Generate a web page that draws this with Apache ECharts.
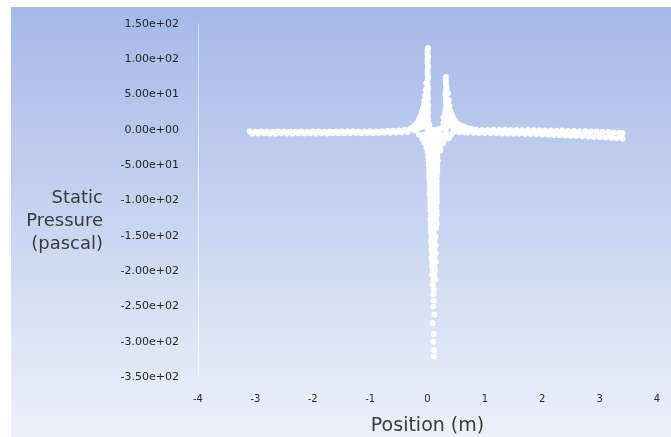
<!DOCTYPE html>
<html><head><meta charset="utf-8">
<script src="https://cdn.jsdelivr.net/npm/echarts@6/dist/echarts.min.js"></script>
<style>html,body{margin:0;padding:0;background:#fff;width:671px;height:437px;overflow:hidden}
#c{position:absolute;left:11px;top:7px;width:660px;height:430px}</style>
</head><body><div id="c"></div><script>
const xTickLabels = ['-4','-3','-2','-1','0','1','2','3','4'];
const yTickLabels = ['-3.50e+02','-3.00e+02','-2.50e+02','-2.00e+02','-1.50e+02','-1.00e+02','-5.00e+01','0.00e+00','5.00e+01','1.00e+02','1.50e+02'];
const yTitle = 'Static\nPressure\n(pascal)';
const xTitle = 'Position (m)';

const leftBand = [
[-3.10,-2.4],[-3.05,-5.0],[-3.00,-2.6],[-2.95,-5.2],[-2.90,-2.3],[-2.85,-4.8],[-2.80,-2.5],[-2.75,-5.1],[-2.70,-2.7],[-2.65,-5.3],[-2.60,-2.4],[-2.55,-4.9],[-2.50,-2.2],[-2.45,-5.0],[-2.40,-2.6],[-2.35,-5.2],[-2.30,-2.5],[-2.25,-4.8],[-2.20,-2.3],[-2.15,-5.1],[-2.10,-2.6],[-2.05,-4.9],[-2.00,-2.4],[-1.95,-5.0],[-1.90,-2.2],[-1.85,-4.7],[-1.80,-2.5],[-1.75,-5.0],[-1.70,-2.3],[-1.65,-4.8],[-1.60,-2.1],[-1.55,-4.6],[-1.50,-2.4],[-1.45,-4.9],[-1.40,-2.2],[-1.35,-4.7],[-1.30,-2.0],[-1.25,-4.5],[-1.20,-2.3],[-1.15,-4.8],[-1.10,-2.1],[-1.05,-4.4],[-1.00,-1.9],[-0.95,-4.6],[-0.90,-2.2],[-0.85,-4.3],[-0.80,-1.8],[-0.75,-4.2],[-0.70,-1.6],[-0.65,-3.9],[-0.60,-1.3],[-0.55,-3.6],[-0.50,-0.9],[-0.45,-3.2],[-0.40,-0.3],[-0.35,-2.8]
];

const spikeA = [
[-0.30,1.5],[-0.26,3.5],[-0.22,6],[-0.19,9],[-0.16,12.5],[-0.14,16],[-0.12,20],[-0.10,25],[-0.08,30],[-0.06,36],[-0.05,42],[-0.04,49],[-0.03,57],[-0.02,66],
[-0.22,-1],[-0.16,2],[-0.14,6],[-0.12,9],[-0.10,4],[-0.10,13],[-0.10,19],[-0.07,8],[-0.07,16],[-0.07,24],[-0.04,6],[-0.04,14],[-0.04,22],[-0.04,30],[-0.04,38],
[0.00,0],[0.01,5],[0.00,10],[0.01,15],[0.00,20],[0.01,25],[0.00,30],[0.01,35],[0.00,40],[0.01,45],[0.00,50],[0.00,55],[0.01,60],[0.00,65],[0.00,70],[0.01,75],[0.00,80],[0.00,85],[0.01,90],[0.00,95],[0.00,100],[0.01,104],[0.00,108],[0.00,112],[0.01,116],
[0.03,2],[0.03,8],[0.04,3],[0.08,0],[0.14,0],[0.20,1]
];

const spikeB = [
[0.32,0],[0.31,5],[0.32,10],[0.33,15],[0.32,20],[0.31,25],[0.32,30],[0.33,35],[0.32,40],[0.32,45],[0.31,50],[0.32,55],[0.33,60],[0.32,65],[0.32,70],[0.32,75],
[0.27,3],[0.28,10],[0.28,18],[0.24,2],
[0.36,52],[0.37,42],[0.38,34],[0.40,27],[0.42,22],[0.45,17],[0.48,13],[0.52,9.5],[0.56,7],[0.61,5],[0.66,3.5],[0.72,2],[0.78,1],
[0.36,10],[0.36,20],[0.36,30],[0.40,6],[0.40,14],[0.44,4],[0.44,10],[0.50,3],[0.56,1],[0.62,0],
[0.45,-3],[0.55,-3.5],[0.65,-3.8]
];

const downSpike = [
[-0.15,-7],[-0.07,-7],[0.01,-7],[0.09,-7],[0.17,-7],[0.25,-7],[0.33,-7],[0.41,-7],
[-0.09,-13],[-0.01,-13],[0.07,-13],[0.15,-13],[0.23,-13],[0.31,-13],[0.37,-12],
[-0.05,-19],[0.03,-19],[0.11,-19],[0.19,-19],[0.27,-19],
[-0.02,-25],[0.06,-25],[0.14,-25],[0.22,-25],
[0.00,-31],[0.08,-31],[0.16,-31],[0.22,-30],
[0.01,-37],[0.09,-37],[0.17,-37],
[0.02,-43],[0.10,-43],[0.18,-43],
[0.02,-49],[0.10,-49],[0.17,-49],
[0.03,-55],[0.10,-55],[0.17,-55],
[0.03,-61],[0.10,-61],[0.17,-61],
[0.03,-67],[0.09,-67],[0.16,-67],
[0.04,-73],[0.10,-73],[0.16,-73],
[0.04,-79],[0.10,-79],[0.16,-79],
[0.04,-85],[0.10,-85],[0.16,-85],
[0.04,-91],[0.10,-91],[0.16,-91],
[0.05,-97],[0.10,-97],[0.16,-97],
[0.05,-103],[0.11,-103],[0.16,-103],
[0.05,-109],[0.10,-109],[0.15,-109],
[0.05,-115],[0.10,-115],[0.16,-115],
[0.06,-121],[0.11,-121],[0.16,-121],
[0.05,-127],[0.10,-127],[0.15,-127],
[0.06,-133],[0.11,-133],[0.16,-133],
[0.06,-139],[0.10,-139],[0.15,-139],
[0.06,-145],[0.11,-145],
[0.07,-151],[0.14,-151],
[0.06,-157],[0.12,-157],
[0.07,-163],[0.14,-163],
[0.07,-169],[0.12,-169],
[0.08,-175],[0.14,-175],
[0.07,-181],[0.12,-181],
[0.08,-187],[0.14,-187],
[0.08,-193],[0.12,-193],
[0.09,-199],[0.13,-199],
[0.08,-205],[0.12,-205],
[0.10,-212],[0.13,-212],
[0.09,-219],[0.11,-226],[0.10,-233],[0.11,-242],[0.10,-250],
[0.12,-262],[0.09,-274],[0.11,-289],[0.10,-300],[0.12,-312],[0.11,-321]
];

const rightBand = [
[0.75,0.5],[0.85,0.2],[0.95,0.0],[1.05,-0.1],[1.15,0.2],[1.25,-0.2],[1.35,0.1],[1.45,-0.3],[1.55,0.0],[1.65,-0.4],[1.75,-0.2],[1.85,-0.6],[1.95,-0.5],[2.05,-0.9],[2.15,-0.7],[2.25,-1.2],[2.35,-1.0],[2.45,-1.5],[2.55,-1.4],[2.65,-1.9],[2.75,-1.8],[2.85,-2.3],[2.95,-2.4],[3.05,-2.8],[3.15,-3.1],[3.25,-3.6],[3.35,-4.2],[3.40,-4.5],
[0.70,-3.8],[0.80,-4.0],[0.90,-4.3],[1.00,-4.5],[1.10,-4.8],[1.20,-4.6],[1.30,-5.1],[1.40,-5.0],[1.50,-5.4],[1.60,-5.3],[1.70,-5.8],[1.80,-5.9],[1.90,-6.3],[2.00,-6.4],[2.10,-6.9],[2.20,-7.1],[2.30,-7.5],[2.40,-7.8],[2.50,-8.3],[2.60,-8.6],[2.70,-9.0],[2.80,-9.4],[2.90,-9.9],[3.00,-10.3],[3.10,-10.9],[3.20,-11.4],[3.30,-12.0],[3.40,-12.4],
[2.00,-3.5],[2.20,-4.0],[2.40,-4.6],[2.60,-5.2],[2.80,-5.8],[3.00,-6.5],[3.20,-7.4],[3.38,-8.2]
];

const chart = echarts.init(document.getElementById('c'), null, {renderer:'canvas'});
function pts(name, data, size){
  return {name:name, type:'scatter', symbol:'circle', symbolSize:size, data:data, silent:true,
    itemStyle:{color:'#ffffff', opacity:1, borderWidth:0, shadowBlur:0},
    emphasis:{disabled:true}};
}
chart.setOption({
  animation:false,
  backgroundColor: new echarts.graphic.LinearGradient(0,0,0,1,[
    {offset:0,color:'#a5b9e8'},{offset:0.5,color:'#c8d5f1'},{offset:1,color:'#eef0f9'}]),
  grid:{left:187,right:14,top:17,bottom:60,containLabel:false,outerBoundsMode:'none'},
  xAxis:{type:'value',min:-4,max:4,interval:1,
    axisLine:{show:false},axisTick:{show:false},splitLine:{show:false},
    axisLabel:{margin:17,fontSize:10,color:'#2b2b2b',fontFamily:'DejaVu Sans',
      formatter:function(v){return xTickLabels[Math.round(v+4)];}},
    name:xTitle,nameLocation:'middle',nameGap:40,
    nameTextStyle:{fontSize:19,color:'#3a3a3a',fontFamily:'DejaVu Sans'}},
  yAxis:{type:'value',min:-350,max:150,interval:50,
    axisLine:{show:true,onZero:false,lineStyle:{color:'rgba(255,255,255,0.6)',width:1}},
    axisTick:{show:false},splitLine:{show:false},
    axisLabel:{margin:19,fontSize:11,color:'#262626',fontFamily:'DejaVu Sans',
      formatter:function(v){return yTickLabels[Math.round((v+350)/50)];}}},
  graphic:[{type:'text', x:92, y:180, silent:true,
    style:{text:yTitle, fontSize:18, lineHeight:23, fill:'#3a3a3a', fontFamily:'DejaVu Sans', align:'right', verticalAlign:'top'}}],
  series:[
    pts('leftBand', leftBand, 6),
    pts('spikeA', spikeA, 6),
    pts('spikeB', spikeB, 6),
    pts('downSpike', downSpike, 6),
    pts('rightBand', rightBand, 6)
  ]
});
</script></body></html>
